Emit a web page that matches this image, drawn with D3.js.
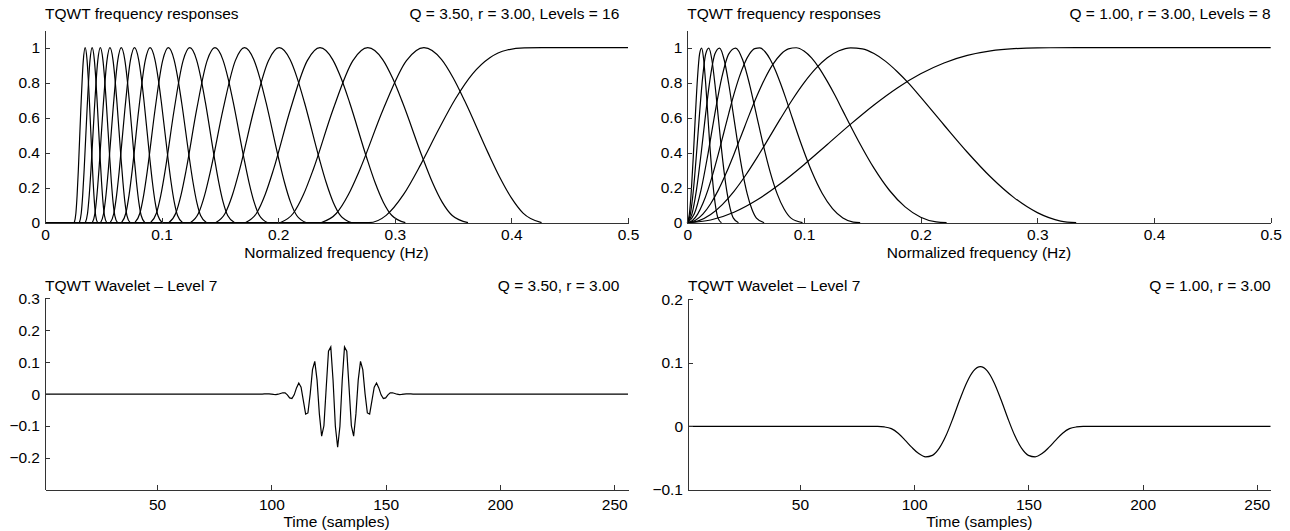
<!DOCTYPE html>
<html>
<head>
<meta charset="utf-8">
<script src="https://cdn.jsdelivr.net/npm/d3@7"></script>
<style>
  body { margin: 0; background: #fff; }
  text { font-family: "Liberation Sans", Arial, Helvetica, sans-serif; font-size: 15.5px; fill: #000; }
  .curve { fill: none; stroke: #000; stroke-width: 1.2; }
  .axis path, .axis line { stroke: #333; shape-rendering: crispEdges; }
</style>
</head>
<body>
<svg id="chart" width="1290" height="531"></svg>
<script>
// ---- TQWT frequency responses, Q = 3.5, r = 3, 16 levels ----
// level 1 (high-pass)
const hpQ35Freq = [0, 0.2778, 0.2926, 0.3074, 0.3222, 0.3370, 0.3519, 0.3667, 0.3815, 0.3963, 0.4111, 0.4259, 0.5];
const hpQ35Mag  = [0, 0, 0.042, 0.160, 0.332, 0.525, 0.707, 0.851, 0.943, 0.987, 0.999, 1, 1];
// levels 2..16 (band-pass), one frequency list per level
const freqQ35 = [
  [0.2366, 0.25, 0.26, 0.27, 0.29, 0.31, 0.325, 0.34, 0.35, 0.36, 0.38, 0.39, 0.40, 0.41, 0.4259],
  [0.20155, 0.21296, 0.22148, 0.23000, 0.24704, 0.26407, 0.27685, 0.28963, 0.29815, 0.30667, 0.32370, 0.33222, 0.34074, 0.34926, 0.36280],
  [0.17169, 0.18141, 0.18867, 0.19593, 0.21044, 0.22495, 0.23584, 0.24672, 0.25398, 0.26123, 0.27575, 0.28300, 0.29026, 0.29752, 0.30905],
  [0.14625, 0.15454, 0.16072, 0.16690, 0.17926, 0.19163, 0.20090, 0.21017, 0.21635, 0.22253, 0.23490, 0.24108, 0.24726, 0.25344, 0.26327],
  [0.12459, 0.13164, 0.13691, 0.14217, 0.15271, 0.16324, 0.17114, 0.17903, 0.18430, 0.18957, 0.20010, 0.20536, 0.21063, 0.21589, 0.22427],
  [0.10613, 0.11214, 0.11663, 0.12111, 0.13008, 0.13905, 0.14578, 0.15251, 0.15700, 0.16148, 0.17045, 0.17494, 0.17942, 0.18391, 0.19104],
  [0.09041, 0.09553, 0.09935, 0.10317, 0.11081, 0.11845, 0.12418, 0.12992, 0.13374, 0.13756, 0.14520, 0.14902, 0.15284, 0.15666, 0.16274],
  [0.07701, 0.08137, 0.08463, 0.08788, 0.09439, 0.10090, 0.10579, 0.11067, 0.11392, 0.11718, 0.12369, 0.12694, 0.13020, 0.13345, 0.13863],
  [0.06560, 0.06932, 0.07209, 0.07486, 0.08041, 0.08596, 0.09012, 0.09427, 0.09705, 0.09982, 0.10537, 0.10814, 0.11091, 0.11368, 0.11809],
  [0.05588, 0.05905, 0.06141, 0.06377, 0.06850, 0.07322, 0.07676, 0.08031, 0.08267, 0.08503, 0.08976, 0.09212, 0.09448, 0.09684, 0.10060],
  [0.04761, 0.05030, 0.05231, 0.05433, 0.05835, 0.06237, 0.06539, 0.06841, 0.07042, 0.07243, 0.07646, 0.07847, 0.08048, 0.08249, 0.08569],
  [0.04055, 0.04285, 0.04456, 0.04628, 0.04971, 0.05313, 0.05570, 0.05828, 0.05999, 0.06170, 0.06513, 0.06685, 0.06856, 0.07027, 0.07300],
  [0.03454, 0.03650, 0.03796, 0.03942, 0.04234, 0.04526, 0.04745, 0.04964, 0.05110, 0.05256, 0.05548, 0.05694, 0.05840, 0.05986, 0.06218],
  [0.02943, 0.03109, 0.03234, 0.03358, 0.03607, 0.03856, 0.04042, 0.04229, 0.04353, 0.04477, 0.04726, 0.04851, 0.04975, 0.05099, 0.05297],
  [0.02507, 0.02649, 0.02755, 0.02861, 0.03072, 0.03284, 0.03443, 0.03602, 0.03708, 0.03814, 0.04026, 0.04132, 0.04238, 0.04344, 0.04512]
];
const magQ35L2 = [0, 0.054, 0.158, 0.303, 0.647, 0.926, 1, 0.933, 0.828, 0.695, 0.399, 0.260, 0.142, 0.055, 0];
const magQ35   = [0, 0.054, 0.158, 0.303, 0.647, 0.926, 1, 0.932, 0.825, 0.687, 0.374, 0.231, 0.116, 0.041, 0];

// ---- TQWT frequency responses, Q = 1, r = 3, 8 levels ----
const hpQ1Freq = [0, 0.02, 0.04, 0.06, 0.08, 0.10, 0.12, 0.14, 0.16, 0.18, 0.20, 0.22, 0.24, 0.26, 0.28, 0.30, 0.3333, 0.5];
const hpQ1Mag  = [0, 0.0153, 0.0601, 0.1313, 0.2239, 0.3316, 0.4472, 0.5633, 0.6730, 0.7704, 0.8511, 0.9129, 0.9557, 0.9816, 0.9945, 0.9991, 1, 1];
const freqQ1L2 = [0, 0.01, 0.02, 0.03, 0.04, 0.05, 0.06, 0.07, 0.08, 0.09, 0.10, 0.11, 0.12, 0.13, 0.14, 0.15, 0.16, 0.17, 0.18, 0.19, 0.20, 0.22, 0.24, 0.26, 0.28, 0.30, 0.32, 0.3333];
const magQ1L2  = [0, 0.0118, 0.0467, 0.1033, 0.1792, 0.2710, 0.3745, 0.4847, 0.5960, 0.7027, 0.7991, 0.8804, 0.9424, 0.9825, 0.9994, 0.9935, 0.9667, 0.9218, 0.8627, 0.7947, 0.7173, 0.5583, 0.4027, 0.2612, 0.1434, 0.0574, 0.0093, 0];
const freqQ1L3 = [0, 0.00667, 0.01333, 0.02, 0.02667, 0.03333, 0.04, 0.04667, 0.05333, 0.06, 0.06667, 0.07333, 0.08, 0.08667, 0.09333, 0.1, 0.10667, 0.11333, 0.12, 0.12667, 0.13333, 0.14667, 0.16, 0.17333, 0.18667, 0.2, 0.21333, 0.22222];
const magQ1L3  = [0, 0.0124, 0.0489, 0.1081, 0.1875, 0.2834, 0.3914, 0.5057, 0.6204, 0.7291, 0.8256, 0.9045, 0.9614, 0.9934, 0.9997, 0.9810, 0.9402, 0.8808, 0.8076, 0.7268, 0.6390, 0.4671, 0.3117, 0.1840, 0.0902, 0.0316, 0.0044, 0];
const freqQ1L4 = [0, 0.00444, 0.00889, 0.01333, 0.01778, 0.02222, 0.02667, 0.03111, 0.03556, 0.04, 0.04444, 0.04889, 0.05333, 0.05778, 0.06222, 0.06667, 0.07111, 0.07556, 0.08, 0.08444, 0.08889, 0.09778, 0.10667, 0.11556, 0.12444, 0.13333, 0.14222, 0.14815];
const magQ1L4  = [0, 0.0125, 0.0493, 0.1091, 0.1892, 0.2859, 0.3947, 0.5098, 0.6252, 0.7344, 0.8306, 0.9089, 0.9645, 0.9946, 0.9985, 0.9769, 0.9329, 0.8703, 0.7941, 0.7106, 0.6207, 0.4466, 0.2922, 0.1683, 0.0802, 0.0271, 0.0036, 0];
// levels 5..8 share one shape
const freqQ1Small = [
  [0, 0.00593, 0.01185, 0.01778, 0.0237, 0.02963, 0.03556, 0.04148, 0.04741, 0.05333, 0.05926, 0.06519, 0.07111, 0.07704, 0.08296, 0.08889, 0.09877],
  [0, 0.00395, 0.0079, 0.01185, 0.0158, 0.01975, 0.0237, 0.02765, 0.0316, 0.03556, 0.03951, 0.04346, 0.04741, 0.05136, 0.05531, 0.05926, 0.06584],
  [0, 0.00263, 0.00527, 0.0079, 0.01053, 0.01317, 0.0158, 0.01844, 0.02107, 0.0237, 0.02634, 0.02897, 0.0316, 0.03424, 0.03687, 0.03951, 0.04389],
  [0, 0.00176, 0.00351, 0.00527, 0.00702, 0.00878, 0.01053, 0.01229, 0.01405, 0.0158, 0.01756, 0.01931, 0.02107, 0.02283, 0.02458, 0.02634, 0.02926]
];
const magQ1Small = [0, 0.0494, 0.1895, 0.3953, 0.6261, 0.8316, 0.9650, 0.9981, 0.9312, 0.7910, 0.6166, 0.4420, 0.2879, 0.1649, 0.0780, 0.0261, 0];

// ---- wavelets, level 7 ----
const waveQ35Time = [1, 96, 97, 98, 99, 100, 101, 102, 103, 104, 105, 106, 107, 108, 109, 110, 111, 112, 113, 114, 115,
  116, 117, 118, 119, 120, 121, 122, 123, 124, 125, 126, 127, 128, 129, 130, 131, 132, 133, 134, 135, 136, 137, 138,
  139, 140, 141, 142, 143, 144, 145, 146, 147, 148, 149, 150, 151, 152, 153, 154, 155, 156, 157, 158, 159, 160, 161, 162, 256];
const waveQ35 = [0, -0.0002, 0.0003, 0.0008, 0.0006, -0.0001, -0.0013, -0.0018, -0.0005, 0.0018, 0.0040, 0.0036, -0.0024,
  -0.0120, -0.0138, -0.0025, 0.0192, 0.0347, 0.0218, -0.0209, -0.0629, -0.0593, 0.0004, 0.0764, 0.1023, 0.0437, -0.0623,
  -0.1319, -0.0995, 0.0197, 0.1344, 0.1478, 0.0423, -0.1011, -0.167, -0.1011, 0.0423, 0.1478, 0.1344, 0.0197, -0.0995,
  -0.1319, -0.0623, 0.0437, 0.1023, 0.0764, 0.0004, -0.0593, -0.0629, -0.0209, 0.0218, 0.0347, 0.0192, -0.0025, -0.0138,
  -0.0120, -0.0024, 0.0036, 0.0040, 0.0018, -0.0005, -0.0018, -0.0013, -0.0001, 0.0006, 0.0008, 0.0003, -0.0002, 0];
const waveQ1Time = [1, 81, 84, 87, 90, 93, 96, 99, 102, 105, 108, 111, 114, 117, 120, 123, 126, 129, 132, 135, 138, 141,
  144, 147, 150, 153, 156, 159, 162, 165, 168, 171, 174, 177, 256];
const waveQ1 = [0, 0, 0, -0.0008, -0.0035, -0.0108, -0.0215, -0.0330, -0.0427, -0.0478, -0.0455, -0.0342, -0.0140, 0.0129,
  0.0423, 0.0689, 0.0874, 0.094, 0.0874, 0.0689, 0.0423, 0.0129, -0.0140, -0.0342, -0.0455, -0.0478, -0.0427, -0.0330,
  -0.0215, -0.0108, -0.0035, -0.0008, 0, 0, 0];

const freqTicks = [0, 0.1, 0.2, 0.3, 0.4, 0.5];
const magTicks = [0, 0.2, 0.4, 0.6, 0.8, 1];
const timeTicks = [50, 100, 150, 200, 250];

const zip = (xs, ys) => xs.map((x, i) => [x, ys[i]]);
const fmt = d3.format('~g');

const svg = d3.select('#chart');

function panel(p) {
  const x = d3.scaleLinear().domain(p.xDomain).range([p.left, p.right]);
  const y = d3.scaleLinear().domain(p.yDomain).range([p.bottom, p.top]);
  const g = svg.append('g');

  const line = d3.line().x(d => x(d[0])).y(d => y(d[1])).curve(p.curve);
  p.series.forEach(s => g.append('path').attr('class', 'curve').attr('d', line(s)));

  g.append('g').attr('class', 'axis')
    .attr('transform', `translate(0,${p.bottom})`)
    .call(d3.axisBottom(x).tickValues(p.xTicks).tickFormat(fmt)
      .tickSizeInner(-5).tickSizeOuter(0).tickPadding(p.xPad));

  g.append('g').attr('class', 'axis')
    .attr('transform', `translate(${p.left},0)`)
    .call(d3.axisLeft(y).tickValues(p.yTicks).tickFormat(fmt)
      .tickSizeInner(-5).tickSizeOuter(0).tickPadding(5));

  g.selectAll('.axis').attr('font-size', null).attr('font-family', null);

  g.append('text').attr('x', p.left).attr('y', p.titleY).text(p.title);
  g.append('text').attr('x', p.infoX).attr('y', p.titleY).attr('text-anchor', 'end').text(p.info);
  g.append('text').attr('x', (p.left + p.right) / 2).attr('y', p.labelY)
    .attr('text-anchor', 'middle').text(p.xLabel);
}

panel({
  left: 45, right: 628, top: 30.2, bottom: 222.7,
  xDomain: [0, 0.5], yDomain: [0, 1.1], xTicks: freqTicks, yTicks: magTicks, xPad: 6.4,
  curve: d3.curveMonotoneX,
  series: [zip(hpQ35Freq, hpQ35Mag)].concat(freqQ35.map((fs, i) => zip(fs, i === 0 ? magQ35L2 : magQ35))),
  title: 'TQWT frequency responses', info: 'Q = 3.50, r = 3.00, Levels = 16', infoX: 619.3, titleY: 18.5,
  xLabel: 'Normalized frequency (Hz)', labelY: 258
});

panel({
  left: 687.3, right: 1270.7, top: 30.2, bottom: 222.7,
  xDomain: [0, 0.5], yDomain: [0, 1.1], xTicks: freqTicks, yTicks: magTicks, xPad: 6.4,
  curve: d3.curveMonotoneX,
  series: [zip(hpQ1Freq, hpQ1Mag), zip(freqQ1L2, magQ1L2), zip(freqQ1L3, magQ1L3), zip(freqQ1L4, magQ1L4)]
    .concat(freqQ1Small.map(fs => zip(fs, magQ1Small))),
  title: 'TQWT frequency responses', info: 'Q = 1.00, r = 3.00, Levels = 8', infoX: 1270.7, titleY: 18.5,
  xLabel: 'Normalized frequency (Hz)', labelY: 258
});

panel({
  left: 45, right: 628, top: 298.4, bottom: 489.7,
  xDomain: [1, 256], yDomain: [-0.3, 0.3], xTicks: timeTicks, yTicks: [-0.2, -0.1, 0, 0.1, 0.2, 0.3], xPad: 9.3,
  curve: d3.curveLinear,
  series: [zip(waveQ35Time, waveQ35)],
  title: 'TQWT Wavelet \u2013 Level 7', info: 'Q = 3.50, r = 3.00', infoX: 619.3, titleY: 290.5,
  xLabel: 'Time (samples)', labelY: 526.5
});

panel({
  left: 688, right: 1270.5, top: 299.3, bottom: 490,
  xDomain: [1, 256], yDomain: [-0.1, 0.2], xTicks: timeTicks, yTicks: [-0.1, 0, 0.1, 0.2], xPad: 9.3,
  curve: d3.curveMonotoneX,
  series: [zip(waveQ1Time, waveQ1)],
  title: 'TQWT Wavelet \u2013 Level 7', info: 'Q = 1.00, r = 3.00', infoX: 1270.7, titleY: 290.5,
  xLabel: 'Time (samples)', labelY: 526.5
});
</script>
</body>
</html>
